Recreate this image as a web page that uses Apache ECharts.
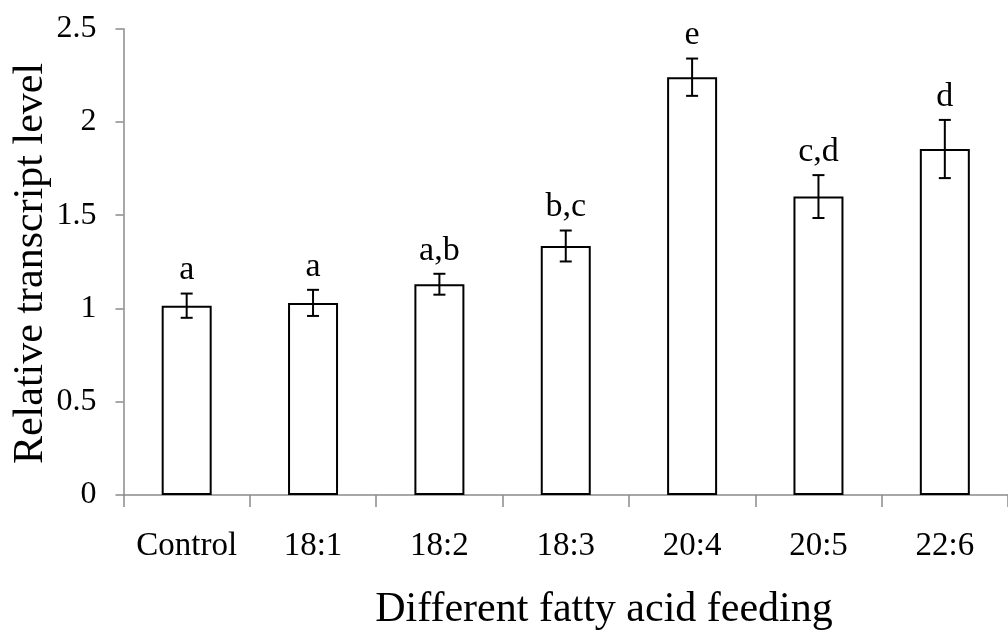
<!DOCTYPE html>
<html>
<head>
<meta charset="utf-8">
<title>Relative transcript level by fatty acid feeding</title>
<script src="https://cdn.jsdelivr.net/npm/echarts@6/dist/echarts.min.js"></script>
<style>
  html, body { margin: 0; padding: 0; background: #ffffff; }
  #chart { width: 1008px; height: 632px; }
</style>
</head>
<body>
<div id="chart"></div>
<script>
// Feeding treatments along the x axis
const categories = ['Control', '18:1', '18:2', '18:3', '20:4', '20:5', '22:6'];
// Mean relative transcript level per treatment
const means = [1.015, 1.03, 1.13, 1.335, 2.24, 1.60, 1.855];
// Error (± value) per treatment
const errors = [0.065, 0.07, 0.056, 0.083, 0.10, 0.115, 0.156];
// Significance group letters shown above each bar
const groups = ['a', 'a', 'a,b', 'b,c', 'e', 'c,d', 'd'];
// Value axis range and step
const yMin = 0, yMax = 2.5, yStep = 0.5;

const serif = "'Liberation Serif', 'Times New Roman', serif";
const axisGray = '#8a8a8a';

const errorData = categories.map((c, i) => [i, means[i] - errors[i], means[i] + errors[i]]);
const letterData = categories.map((c, i) => [i, means[i] + errors[i], groups[i]]);

const chart = echarts.init(document.getElementById('chart'), null, { renderer: 'canvas' });

chart.setOption({
  animation: false,
  backgroundColor: '#ffffff',
  grid: { left: 123.5, right: -7.5, top: 28.7, bottom: 137 },
  xAxis: {
    type: 'category',
    data: categories,
    boundaryGap: true,
    axisLine: { show: true, lineStyle: { color: axisGray, width: 1.5 } },
    axisTick: { show: true, interval: 0, alignWithLabel: false, length: 12, lineStyle: { color: axisGray, width: 1.5 } },
    axisLabel: { interval: 0, color: '#000', fontFamily: serif, fontSize: 33, margin: 35 },
    splitLine: { show: false }
  },
  yAxis: {
    type: 'value',
    min: yMin, max: yMax, interval: yStep,
    axisLine: { show: true, lineStyle: { color: axisGray, width: 1.5 } },
    axisTick: { show: true, length: 8, lineStyle: { color: axisGray, width: 1.5 } },
    axisLabel: { color: '#000', fontFamily: serif, fontSize: 32, margin: 27 },
    splitLine: { show: false }
  },
  graphic: [
    {
      type: 'text',
      x: 31, y: 263.5,
      rotation: Math.PI / 2,
      style: {
        text: 'Relative transcript level',
        fontFamily: serif, fontSize: 42, fill: '#000',
        align: 'center', verticalAlign: 'middle'
      }
    },
    {
      type: 'text',
      x: 604, y: 610,
      style: {
        text: 'Different fatty acid feeding',
        fontFamily: serif, fontSize: 42, fill: '#000',
        align: 'center', verticalAlign: 'middle'
      }
    }
  ],
  series: [
    {
      type: 'bar',
      data: means,
      barWidth: 50,
      itemStyle: { color: '#ffffff', borderColor: '#000000', borderWidth: 2 },
      z: 2
    },
    {
      // error bars with caps
      type: 'custom',
      data: errorData,
      z: 3,
      renderItem: function (params, api) {
        const x = api.value(0);
        const lo = api.coord([x, api.value(1)]);
        const hi = api.coord([x, api.value(2)]);
        const cap = 6;
        const st = { stroke: '#000', lineWidth: 2 };
        return {
          type: 'group',
          children: [
            { type: 'line', shape: { x1: hi[0], y1: hi[1], x2: lo[0], y2: lo[1] }, style: st },
            { type: 'line', shape: { x1: hi[0] - cap, y1: hi[1], x2: hi[0] + cap, y2: hi[1] }, style: st },
            { type: 'line', shape: { x1: lo[0] - cap, y1: lo[1], x2: lo[0] + cap, y2: lo[1] }, style: st }
          ]
        };
      }
    },
    {
      // group letters above the error bars
      type: 'custom',
      data: letterData,
      z: 4,
      renderItem: function (params, api) {
        const p = api.coord([api.value(0), api.value(1)]);
        return {
          type: 'text',
          x: p[0], y: p[1] - 23,
          style: {
            text: groups[params.dataIndex],
            fontFamily: serif, fontSize: 34, fill: '#000',
            align: 'center', verticalAlign: 'middle'
          }
        };
      }
    }
  ]
});
</script>
</body>
</html>
